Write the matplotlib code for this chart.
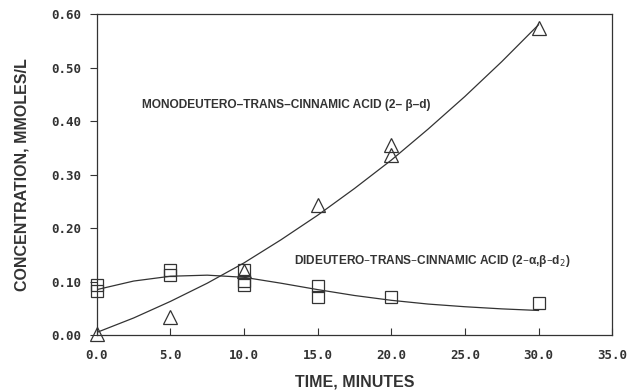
import matplotlib
matplotlib.use("Agg")
import matplotlib.pyplot as plt

# measured points (minutes, mmoles/L)
mono_t = [0.0, 5.0, 10.0, 15.0, 20.0, 20.0, 30.0]
mono_c = [0.002, 0.034, 0.120, 0.243, 0.355, 0.336, 0.574]
di_t = [0.0, 0.0, 5.0, 5.0, 10.0, 10.0, 10.0, 15.0, 15.0, 20.0, 30.0]
di_c = [0.093, 0.082, 0.121, 0.112, 0.122, 0.102, 0.093, 0.092, 0.071, 0.072, 0.060]

# fitted curves
curve_t = [0.0, 2.5, 5.0, 7.5, 10.0, 12.5, 15.0, 17.5, 20.0, 22.5, 25.0, 27.5, 30.0]
mono_fit = [0.005, 0.032, 0.063, 0.097, 0.135, 0.178, 0.224, 0.274, 0.327, 0.385, 0.446, 0.511, 0.580]
di_fit = [0.085, 0.101, 0.110, 0.112, 0.108, 0.097, 0.085, 0.074, 0.065, 0.058, 0.053, 0.049, 0.046]

x_ticks = [0, 5, 10, 15, 20, 25, 30, 35]
y_ticks = [0.0, 0.1, 0.2, 0.3, 0.4, 0.5, 0.6]

ink = "#333333"
lab_font = ["Liberation Sans Narrow", "Liberation Sans", "DejaVu Sans"]
tick_font = ["DejaVu Sans Mono"]

fig = plt.figure(figsize=(6.33, 3.91), dpi=100)
ax = fig.add_axes([0.153, 0.143, 0.814, 0.821])

ax.plot(curve_t, mono_fit, color=ink, lw=0.9)
ax.plot(curve_t, di_fit, color=ink, lw=0.9)
ax.plot(mono_t, mono_c, ls="none", marker="^", ms=10, mfc="none", mec=ink, mew=0.9, clip_on=False)
ax.plot(di_t, di_c, ls="none", marker="s", ms=8, mfc="none", mec=ink, mew=0.9, clip_on=False)

ax.set_xlim(0, 35)
ax.set_ylim(0, 0.6)
ax.set_xticks(x_ticks)
ax.set_yticks(y_ticks)
ax.set_xticklabels(["%.1f" % v for v in x_ticks], fontfamily=tick_font, fontweight="bold", fontsize=9, color=ink)
ax.set_yticklabels(["%.2f" % v for v in y_ticks], fontfamily=tick_font, fontweight="bold", fontsize=9, color=ink)
ax.tick_params(axis="x", direction="in", length=5, color=ink, pad=10)
ax.tick_params(axis="y", direction="out", length=5, color=ink, pad=6)
for s in ax.spines.values():
    s.set_color(ink)
    s.set_linewidth(0.9)

ax.set_xlabel("TIME, MINUTES", fontfamily=lab_font, fontweight="bold", fontsize=11.5, color=ink, labelpad=9)
ax.set_ylabel("CONCENTRATION, MMOLES/L", fontfamily=lab_font, fontweight="bold", fontsize=11.5, color=ink, labelpad=16)

ax.text(3.1, 0.43, "MONODEUTERO\u2013TRANS\u2013CINNAMIC ACID (2\u2013 \u03b2\u2013d)",
        fontfamily=lab_font, fontweight="bold", fontsize=8.6, color=ink, va="center")
ax.text(13.4, 0.138, "DIDEUTERO\u2013TRANS\u2013CINNAMIC ACID (2\u2013\u03b1,\u03b2\u2013d$_2$)",
        fontfamily=lab_font, fontweight="bold", fontsize=8.6, color=ink, va="center")

fig.savefig("out.png", dpi=100, facecolor="white")
